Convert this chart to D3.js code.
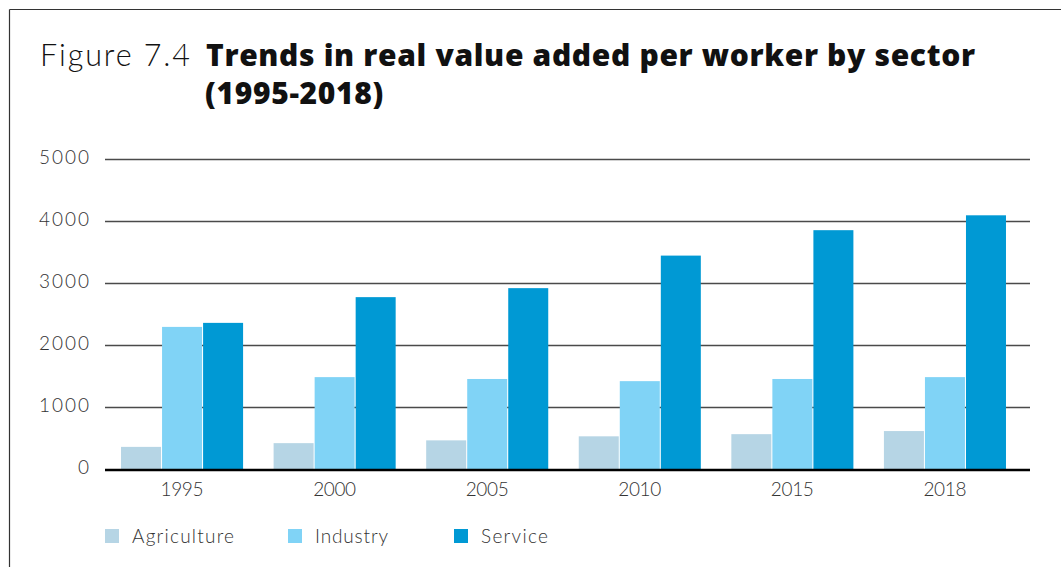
<!DOCTYPE html>
<html><head><meta charset="utf-8">
<script src="https://cdn.jsdelivr.net/npm/d3@7"></script>
<style>
html,body{margin:0;padding:0;background:#fff;}
svg{display:block;font-family:Lato,"Open Sans",sans-serif;}
</style></head>
<body>
<svg id="chart" width="1061" height="567"></svg>
<script>
const years = ["1995","2000","2005","2010","2015","2018"];
const seriesNames = ["Agriculture","Industry","Service"];
const agriculture = [365, 425, 470, 535, 570, 620];
const industry = [2300, 1490, 1460, 1425, 1460, 1490];
const service = [2365, 2780, 2925, 3450, 3860, 4100];
const yTicks = [0, 1000, 2000, 3000, 4000, 5000];
const colors = ["#b6d5e5", "#80d3f6", "#0099d4"];

(function(){
const seriesValues = [agriculture, industry, service];
const svg = d3.select("#chart");
const LIGHT = "Lato, sans-serif";
const BOLD = "'Open Sans', 'Noto Sans', sans-serif";

// letter-spacing needed so that a text node spans targetWidth (visible glyph extent)
function spacingFor(node, target) {
  const w = node.getComputedTextLength();
  const n = node.textContent.length;
  return n > 1 ? (target - w) / (n - 1) : 0;
}

// frame
svg.append("line").attr("x1",9.5).attr("x2",9.5).attr("y1",9.5).attr("y2",567).attr("stroke","#333").attr("stroke-width",1.2);
svg.append("line").attr("x1",9.5).attr("x2",1061).attr("y1",9.5).attr("y2",9.5).attr("stroke","#333").attr("stroke-width",1.2);

// title
const tA = svg.append("text").attr("x",40).attr("y",66).attr("font-size",30.5).attr("font-family",LIGHT)
  .attr("font-weight",300).attr("fill","#111").text("Figure 7.4");
tA.attr("letter-spacing", spacingFor(tA.node(), 150));
const tB = svg.append("text").attr("x",206).attr("y",66).attr("font-size",30).attr("font-family",BOLD)
  .attr("font-weight",800).attr("fill","#111").text("Trends in real value added per worker by sector");
const lsB = spacingFor(tB.node(), 769);
tB.attr("letter-spacing", lsB);
svg.append("text").attr("x",205).attr("y",104).attr("font-size",30).attr("font-family",BOLD)
  .attr("font-weight",800).attr("fill","#111").attr("letter-spacing", lsB).text("(1995-2018)");

const pLeft = 105, pRight = 1030, pTop = 159.5, pBottom = 469.5;
const x0 = d3.scaleBand().domain(years).range([pLeft, 1022]).paddingInner(0.2).paddingOuter(0.105);
const x1 = d3.scaleBand().domain(seriesNames).range([0, x0.bandwidth()]).paddingInner(0.025);
const y = d3.scaleLinear().domain([0, 5000]).range([pBottom, pTop]);

// gridlines
svg.append("g").selectAll("line").data(yTicks.filter(d=>d>0)).join("line")
  .attr("x1",pLeft).attr("x2",pRight)
  .attr("y1",d=>y(d)).attr("y2",d=>y(d))
  .attr("stroke","#4a4a4a").attr("stroke-width",1.3);

// y axis labels
const yAxis = d3.axisLeft(y).tickValues(yTicks).tickSize(0).tickPadding(0).tickFormat(d3.format("d"));
const gy = svg.append("g").call(yAxis);
gy.select(".domain").remove();
const ytexts = gy.selectAll("text").attr("font-size",19).attr("fill","#333").attr("font-family",LIGHT).attr("font-weight",300).attr("dy","0.22em");
const ref4000 = ytexts.filter(d=>d===4000).node();
const lsY = spacingFor(ref4000, 50);
ytexts.attr("letter-spacing", lsY);
gy.attr("transform",`translate(${89 + lsY},0)`);

// bars
const data = years.map((yr,i)=>({year:yr, vals: seriesNames.map((s,j)=>({s, v: seriesValues[j][i], c: colors[j]}))}));
svg.append("g").selectAll("g").data(data).join("g")
  .attr("transform",d=>`translate(${x0(d.year)},0)`)
  .selectAll("rect").data(d=>d.vals).join("rect")
  .attr("x",d=>x1(d.s)).attr("width",x1.bandwidth())
  .attr("y",d=>y(d.v)).attr("height",d=>y(0)-y(d.v))
  .attr("fill",d=>d.c);

// baseline
svg.append("line").attr("x1",pLeft).attr("x2",pRight).attr("y1",pBottom+0.5).attr("y2",pBottom+0.5).attr("stroke","#000").attr("stroke-width",2.6);

// x axis labels
const xAxis = d3.axisBottom(x0).tickSize(0).tickPadding(0);
const gx = svg.append("g").call(xAxis);
gx.select(".domain").remove();
const xtexts = gx.selectAll("text").attr("font-size",19).attr("fill","#333").attr("font-family",LIGHT).attr("font-weight",300).attr("dy",0).attr("y",26.5);
const lsX = spacingFor(xtexts.filter(d=>d==="2010").node(), 43);
xtexts.attr("letter-spacing", lsX);
gx.attr("transform",`translate(${lsX/2},${pBottom})`);

// legend
const legendX = [105, 288, 454];
const legendW = [102, 73, 67];
const lg = svg.append("g").selectAll("g").data(seriesNames).join("g")
  .attr("transform",(d,i)=>`translate(${legendX[i]},529)`);
lg.append("rect").attr("width",14).attr("height",14).attr("fill",(d,i)=>colors[i]);
lg.append("text").attr("x",27).attr("y",14).attr("font-size",19).attr("font-family",LIGHT).attr("font-weight",300).attr("fill","#333").text(d=>d)
  .each(function(d,i){ d3.select(this).attr("letter-spacing", spacingFor(this, legendW[i])); });
})();
</script>
</body></html>
